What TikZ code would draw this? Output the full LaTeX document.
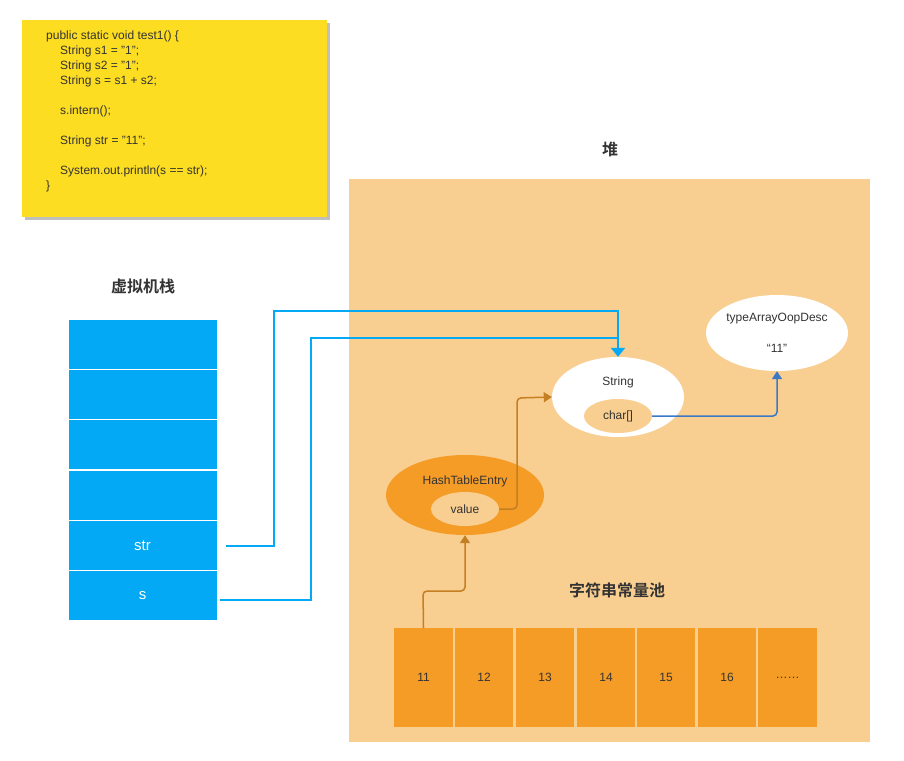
\documentclass[tikz,border=0pt]{standalone}
\usepackage{fontspec}
\setmainfont{Liberation Sans}
\newfontfamily\cjk{Noto Sans CJK SC}[BoldFont={* Bold}]
\usetikzlibrary{arrows.meta,shapes.geometric}
\definecolor{heap}{HTML}{F9CE91}
\definecolor{ybox}{HTML}{FDDD22}
\definecolor{sblue}{HTML}{03A9F4}
\definecolor{aorange}{HTML}{F49C26}
\definecolor{brownln}{HTML}{C47F22}
\definecolor{dblue}{HTML}{3A78C8}
\definecolor{txt}{HTML}{333333}
\begin{document}
\begin{tikzpicture}[x=1pt,y=-1pt,
  every node/.style={text=txt,font=\fontsize{12}{14}\selectfont},
  title/.style={font=\cjk\bfseries\fontsize{16}{18}\selectfont},
  cell/.style={draw=white,line width=1pt,fill=sblue,minimum width=149pt,minimum height=50pt,inner sep=0pt,text=white,font=\fontsize{15}{17}\selectfont},
  pcell/.style={fill=aorange,minimum width=58.5pt,minimum height=99pt,inner sep=0pt},
  ell/.style={ellipse,inner sep=0pt},
  barrow/.style={draw=sblue,line width=2.5pt,-{Triangle[length=9pt,width=14pt]}},
  oarrow/.style={draw=brownln,line width=1.5pt,rounded corners=4pt,-{Triangle[length=8pt,width=10pt]}},
  darrow/.style={draw=dblue,line width=1.5pt,rounded corners=4pt,-{Triangle[length=8pt,width=10pt]}}]
\useasboundingbox (0,0) rectangle (904,760);
\fill[white] (0,0) rectangle (904,760);
% code box
\fill[black!25] (25,23) rectangle (330,220);
\node[fill=ybox,minimum width=305pt,minimum height=197pt,anchor=north west,inner sep=0pt] (code) at (22,20) {};
\node[anchor=north west,align=left,inner sep=0pt,font=\fontsize{12}{15}\selectfont] (codetxt) at (46,31) {%
public static void test1() \{\\
\hspace*{14pt}String s1 = "1";\\
\hspace*{14pt}String s2 = "1";\\
\hspace*{14pt}String s = s1 + s2;\\[15pt]
\hspace*{14pt}s.intern();\\[15pt]
\hspace*{14pt}String str = "11";\\[15pt]
\hspace*{14pt}System.out.println(s == str);\\
\}};
% heap
\node[fill=heap,minimum width=521pt,minimum height=563pt,anchor=north west,inner sep=0pt] (heap) at (349,179) {};
\node[title] (heaplbl) at (610,149) {堆};
\node[title] (stacklbl) at (143,286) {虚拟机栈};
% stack
\node[cell] (c1) at (142.5,344) {};
\node[cell] (c2) at (142.5,394.5) {};
\node[cell] (c3) at (142.5,444.5) {};
\node[cell] (c4) at (142.5,495) {};
\node[cell] (str) at (142.5,545.5) {str};
\node[cell] (s) at (142.5,595.5) {s};
% ellipses
\node[ell,fill=white,minimum width=132pt,minimum height=80pt] (String) at (618,397) {};
\node (strlbl) at (618,382) {String};
\node[ell,fill=heap,minimum width=68pt,minimum height=34pt] (char) at (618,416) {char[]};
\node[ell,fill=white,minimum width=142pt,minimum height=76pt] (toop) at (777,333) {};
\node (toop1) at (777,319) {typeArrayOopDesc};
\node (toop2) at (777,348) {“11”};
\node[ell,fill=aorange,minimum width=158pt,minimum height=80pt] (hte) at (465,495) {};
\node (htelbl) at (465,481) {HashTableEntry};
\node[ell,fill=heap,minimum width=68pt,minimum height=34pt] (value) at (465,509) {value};
% pool
\node[title] (poollbl) at (617,590) {字符串常量池};
\node[pcell] (p1) at (423.5,677.5) {11};
\node[pcell] (p2) at (484,677.5) {12};
\node[pcell] (p3) at (545,677.5) {13};
\node[pcell] (p4) at (606,677.5) {14};
\node[pcell] (p5) at (666,677.5) {15};
\node[pcell] (p6) at (727,677.5) {16};
\node[pcell] (p7) at (787.5,677.5) {……};
% arrows
\coordinate (strstart) at (226,546);
\coordinate (sstart) at (220,600);
\draw[barrow] (strstart) -- (274,546) -- (274,311) -- (618,311) -- (String.north);
\draw[draw=sblue,line width=2.5pt] (sstart) -- (311,600) -- (311,338) -- (618,338);
\draw[oarrow] (value.east) -- (517,509) -- (517,398) -- (String.west);
\draw[oarrow] (p1.north) -- (423,591) -- (465,591) -- (hte.south);
\draw[darrow] (char.east) -- (777,416) -- (toop.south);
\end{tikzpicture}
\end{document}
